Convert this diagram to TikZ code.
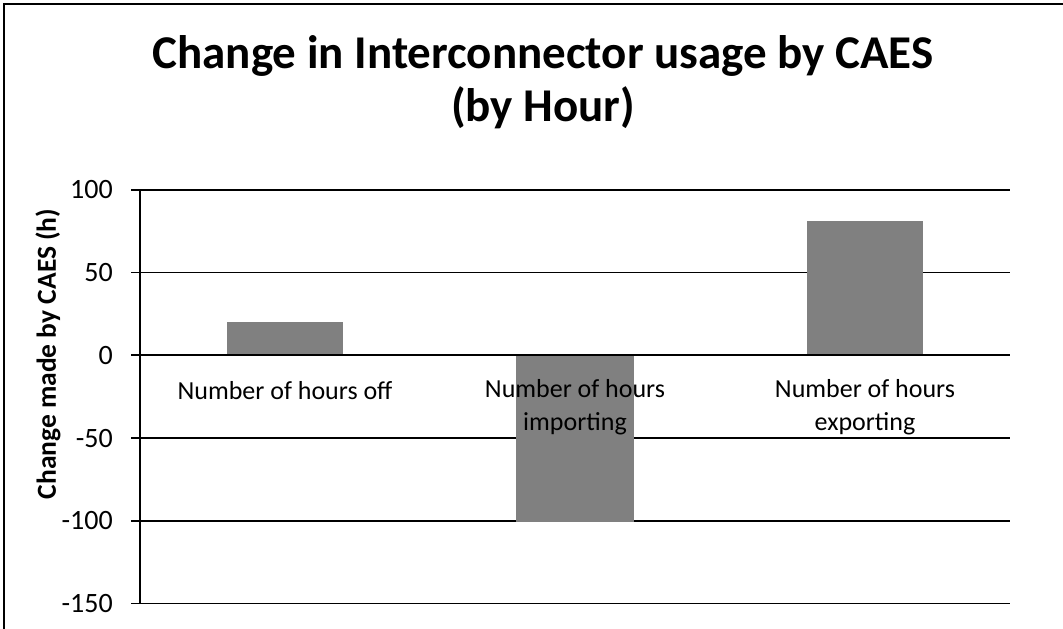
\documentclass[tikz,border=0pt]{standalone}
\usepackage{fontspec}
\setmainfont{Carlito}
\usetikzlibrary{positioning}

\begin{document}
\begin{tikzpicture}[x=1pt, y=-1pt,
grid/.style={black, line width=1.8pt},
bar/.style={fill=black!50},
ticklbl/.style={anchor=east, inner sep=0pt, font=\fontsize{28}{33}\selectfont},
catlbl/.style={align=center, inner sep=0pt, font=\fontsize{26}{33}\selectfont}]

\useasboundingbox (0,0) rectangle (1063,629);
\draw[line width=1.2pt] (4,629) -- (4,4) -- (1063,4);

\node[align=center, font=\bfseries\fontsize{47}{53}\selectfont] (title) at (543,82) {Change in Interconnector usage by CAES\\(by Hour)};
\node[rotate=90, font=\bfseries\fontsize{27.5}{32}\selectfont] (ylabel) at (48,354) {Change made by CAES (h)};

% grid and ticks
\foreach \v in {100,50,-50,-100,-150}
  \draw[grid] (131,{355.3-1.655*\v}) -- (1010,{355.3-1.655*\v});
\foreach \v in {100,50,0,-50,-100,-150}
  \node[ticklbl] (tick\v) at (113,{355.3-1.655*\v}) {\v};

% bars
\fill[bar] (227,{355.3-1.655*20}) rectangle (343,355.3);
\fill[bar] (516,355.3) rectangle (634,{355.3+1.655*101});
\fill[bar] (807,{355.3-1.655*81}) rectangle (923,355.3);

\draw[grid] (131,355.3) -- (1010,355.3);
\draw[grid] (140,190) -- (140,603.5);

\node[catlbl] (catOff) at (285,391) {Number of hours off};
\node[catlbl] (catImp) at (575,407) {Number of hours\\importing};
\node[catlbl] (catExp) at (865,407) {Number of hours\\exporting};

\end{tikzpicture}
\end{document}
